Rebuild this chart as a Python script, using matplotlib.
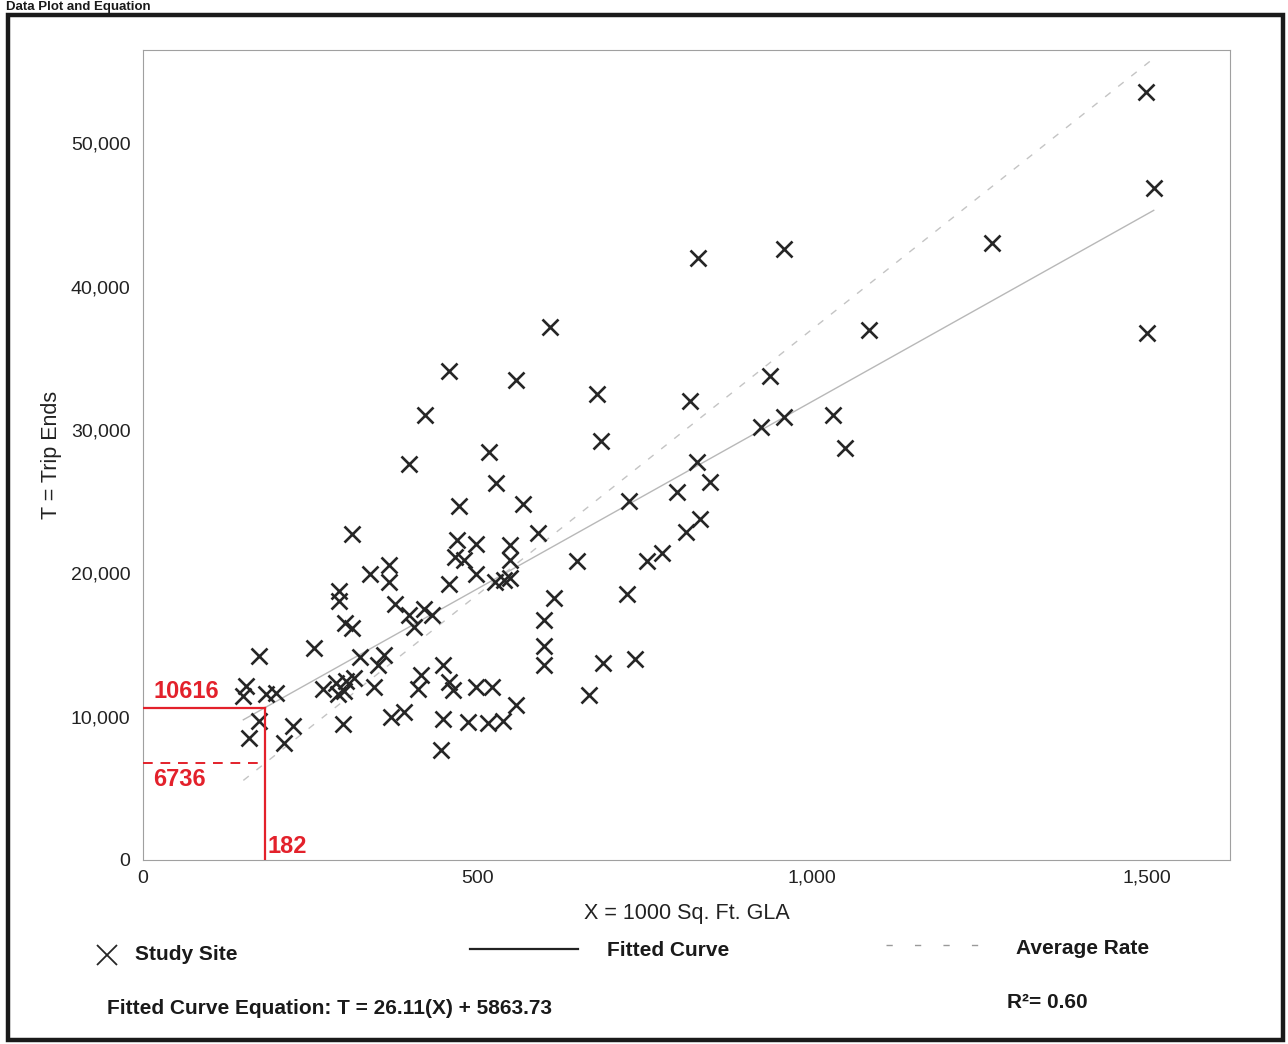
import matplotlib
matplotlib.use("Agg")
import matplotlib.pyplot as plt
from matplotlib.lines import Line2D
from matplotlib.patches import Rectangle
import numpy as np

plt.rcParams['font.family'] = ['Liberation Sans', 'DejaVu Sans']

# Study sites: X = 1000 Sq. Ft. GLA, T = trip ends
gla = [1499, 1511, 1501, 1269, 1085, 959, 829, 608, 938, 818,
       679, 685, 959, 924, 1032, 1049, 847, 828, 798, 726,
       833, 812, 776, 754, 723, 736, 688, 666, 649, 591,
       568, 527, 517, 557, 458, 421, 398, 473, 312, 470,
       498, 548, 467, 480, 549, 498, 458, 526, 539, 549,
       614, 599, 599, 599, 449, 458, 464, 498, 521, 558,
       449, 486, 516, 538, 445, 368, 340, 368, 293, 293,
       377, 302, 312, 397, 420, 432, 405, 255, 174, 324,
       361, 352, 269, 289, 291, 304, 316, 301, 346, 154,
       150, 184, 199, 416, 411, 371, 390, 299, 173, 158,
       224, 211]
trips = [53570, 46870, 36750, 43040, 36960, 42590, 42010, 37200, 33730, 32030,
         32500, 29220, 30870, 30180, 31050, 28740, 26370, 27770, 25690, 25020,
         23800, 22900, 21440, 20890, 18530, 14050, 13720, 11500, 20850, 22830,
         24860, 26270, 28440, 33450, 34110, 31050, 27640, 24680, 22710, 22310,
         22020, 22000, 21120, 20910, 20960, 19930, 19250, 19360, 19560, 19700,
         18280, 16760, 14940, 13610, 13590, 12410, 11840, 12040, 12040, 10840,
         9830, 9600, 9590, 9730, 7660, 20600, 19920, 19410, 18740, 18050,
         17880, 16500, 16150, 17100, 17520, 17090, 16260, 14780, 14250, 14190,
         14320, 13630, 11910, 12320, 11560, 12460, 12670, 11760, 12090, 12160,
         11470, 11590, 11650, 12910, 11930, 9990, 10330, 9460, 9710, 8530,
         9340, 8160]

# Regression results
slope, intercept = 26.11, 5863.73
avg_rate = 37.01
site_x = 182
fit_at_site = 10616
avg_at_site = 6736

y_ticks = [0, 10000, 20000, 30000, 40000, 50000]
y_tick_labels = ['0', '10,000', '20,000', '30,000', '40,000', '50,000']
x_ticks = [0, 500, 1000, 1500]
x_tick_labels = ['0', '500', '1,000', '1,500']

W, H = 1288, 1044
fig = plt.figure(figsize=(W / 100, H / 100), dpi=100)

def fx(px):
    return px / W

def fy(py):
    return 1 - py / H

ax = fig.add_axes([fx(143), fy(860), fx(1230) - fx(143), fy(50) - fy(860)])
ax.set_xlim(0, 1625)
ax.set_ylim(0, 56500)

for s in ax.spines.values():
    s.set_color('#a0a0a0')
    s.set_linewidth(0.8)

ax.set_yticks(y_ticks)
ax.set_yticklabels(y_tick_labels)
ax.set_xticks(x_ticks)
ax.set_xticklabels(x_tick_labels)
ax.tick_params(axis='both', length=0, labelsize=14, colors='#222222')
ax.tick_params(axis='y', pad=9)
ax.tick_params(axis='x', pad=7)

ax.set_xlabel('X = 1000 Sq. Ft. GLA', fontsize=15.5, color='#222222', labelpad=12)
ax.set_ylabel('T = Trip Ends', fontsize=15.5, color='#222222', labelpad=6)

# Fitted curve and average rate lines across the data range
xs = np.array([min(gla), max(gla)])
ax.plot(xs, slope * xs + intercept, color='#b8b8b8', lw=1.0, zorder=2)
ax.plot(xs, avg_rate * xs, color='#c4c4c4', lw=1.0, ls=(0, (5, 7)), zorder=2)

# Study sites
ax.plot(gla, trips, ls='none', marker='x', markersize=11, mew=1.9,
        color='#262626', zorder=3)

# Site lookup lines in red
red = '#e3212b'
ax.plot([0, site_x], [fit_at_site, fit_at_site], color=red, lw=1.6, zorder=4)
ax.plot([site_x, site_x], [0, fit_at_site], color=red, lw=1.6, zorder=4)
ax.plot([0, site_x], [avg_at_site, avg_at_site], color=red, lw=1.4,
        ls=(0, (5, 4)), zorder=4)
ax.text(15, fit_at_site + 350, f'{fit_at_site}', color=red, fontsize=17,
        fontweight='bold', va='bottom', ha='left')
ax.text(15, avg_at_site - 350, f'{avg_at_site}', color=red, fontsize=17,
        fontweight='bold', va='top', ha='left')
ax.text(site_x + 4, 150, f'{site_x}', color=red, fontsize=17,
        fontweight='bold', va='bottom', ha='left')

# Page frame and heading
fig.patches.append(Rectangle((fx(8), fy(1040)), fx(1283) - fx(8), fy(15) - fy(1040),
                             transform=fig.transFigure, fill=False,
                             edgecolor='#1a1a1a', lw=3.2))
fig.text(fx(6), fy(1), 'Data Plot and Equation', fontsize=9.5, fontweight='bold',
         va='top', ha='left', color='#1a1a1a')

# Legend row
fig.add_artist(Line2D([fx(107)], [fy(955)], marker='x', markersize=14, mew=1.3,
                      color='#262626', transform=fig.transFigure))
fig.text(fx(135), fy(955), 'Study Site', fontsize=15, fontweight='bold',
         va='center', ha='left', color='#1a1a1a')
fig.add_artist(Line2D([fx(470), fx(578)], [fy(949), fy(949)], lw=1.6,
                      color='#222222', transform=fig.transFigure))
fig.text(fx(607), fy(951), 'Fitted Curve', fontsize=15, fontweight='bold',
         va='center', ha='left', color='#1a1a1a')
fig.add_artist(Line2D([fx(886), fx(980)], [fy(945), fy(945)], lw=1.0,
                      color='#9a9a9a', ls=(0, (4.5, 16)), transform=fig.transFigure))
fig.text(fx(1016), fy(948), 'Average Rate', fontsize=15, fontweight='bold',
         va='center', ha='left', color='#1a1a1a')

fig.text(fx(107), fy(1009), 'Fitted Curve Equation: T = 26.11(X) + 5863.73',
         fontsize=15, fontweight='bold', va='center', ha='left', color='#1a1a1a')
fig.text(fx(1007), fy(1003), 'R²= 0.60', fontsize=15, fontweight='bold',
         va='center', ha='left', color='#1a1a1a')

fig.savefig('out.png', dpi=100)
